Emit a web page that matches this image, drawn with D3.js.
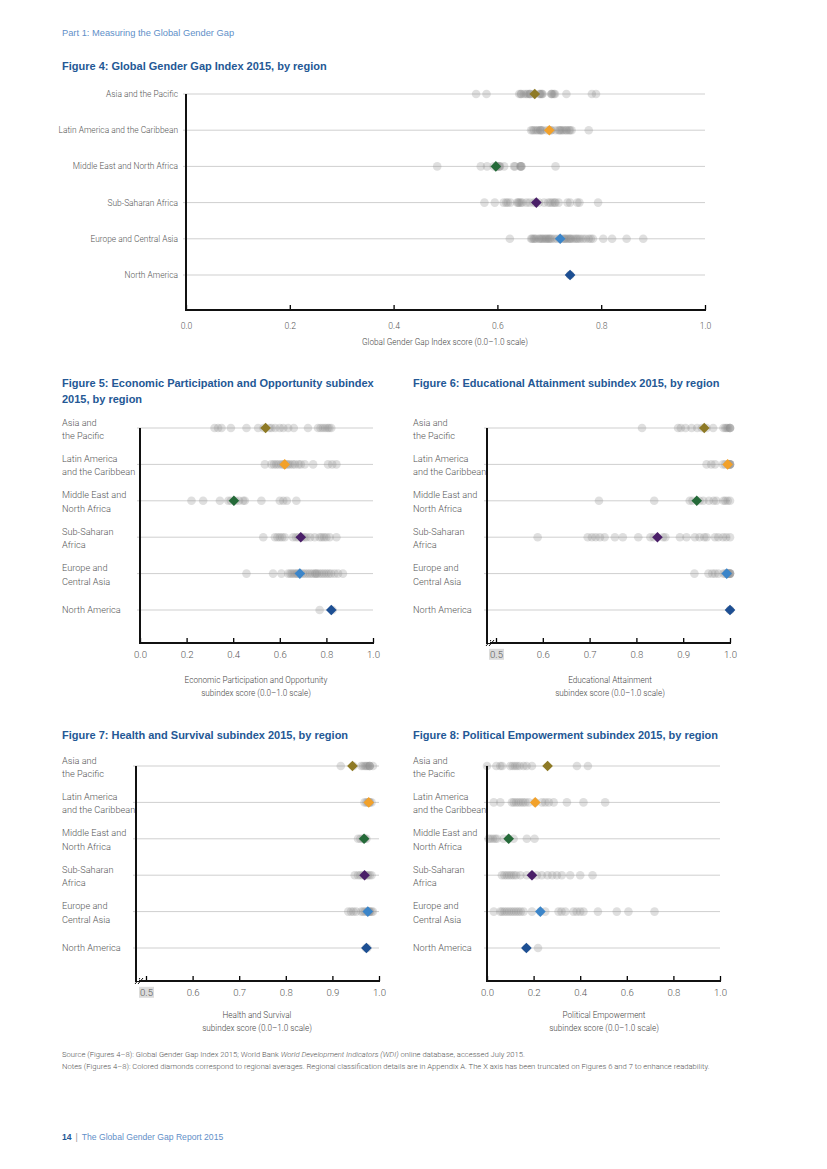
<!DOCTYPE html>
<html>
<head>
<meta charset="utf-8">
<script src="https://cdn.jsdelivr.net/npm/d3@7"></script>
<style>
  body { margin: 0; background: #fff; }
  svg text { font-family: Roboto, "Liberation Sans", sans-serif; font-weight: 300; fill: #555; }
  svg .head { font-family: "Liberation Sans", Arial, sans-serif; font-weight: normal; }
</style>
</head>
<body>
<div id="container"></div>
<script>
var regions = ["Asia and the Pacific", "Latin America and the Caribbean", "Middle East and North Africa",
  "Sub-Saharan Africa", "Europe and Central Asia", "North America"];
var regionLines = [["Asia and", "the Pacific"], ["Latin America", "and the Caribbean"], ["Middle East and", "North Africa"],
  ["Sub-Saharan", "Africa"], ["Europe and", "Central Asia"], ["North America"]];
var regionColours = ["#8e7a26", "#f2a12a", "#256a39", "#4a1f68", "#3b85c9", "#1d4f93"];

// Figure 4: overall index
var gggiPoints = [
  [0.559, 0.579, 0.642, 0.645, 0.646, 0.651, 0.655, 0.658, 0.662, 0.662, 0.664, 0.670, 0.681, 0.682, 0.684, 0.686, 0.687, 0.704, 0.704, 0.706, 0.709, 0.711, 0.733, 0.782, 0.790],
  [0.665, 0.668, 0.671, 0.675, 0.678, 0.682, 0.683, 0.685, 0.687, 0.695, 0.700, 0.703, 0.704, 0.712, 0.718, 0.720, 0.722, 0.725, 0.728, 0.732, 0.734, 0.738, 0.740, 0.743, 0.776],
  [0.484, 0.568, 0.580, 0.593, 0.599, 0.599, 0.603, 0.604, 0.605, 0.613, 0.632, 0.634, 0.644, 0.645, 0.646, 0.646, 0.712],
  [0.575, 0.595, 0.612, 0.617, 0.620, 0.625, 0.638, 0.640, 0.642, 0.645, 0.648, 0.656, 0.662, 0.670, 0.674, 0.680, 0.690, 0.698, 0.702, 0.706, 0.710, 0.712, 0.718, 0.735, 0.740, 0.754, 0.758, 0.794],
  [0.624, 0.665, 0.667, 0.670, 0.672, 0.675, 0.680, 0.682, 0.685, 0.687, 0.690, 0.693, 0.695, 0.698, 0.700, 0.702, 0.705, 0.710, 0.715, 0.720, 0.725, 0.728, 0.730, 0.732, 0.735, 0.738, 0.740, 0.742, 0.746, 0.750, 0.753, 0.756, 0.760, 0.765, 0.770, 0.776, 0.780, 0.784, 0.804, 0.821, 0.849, 0.881],
  [0.740, 0.740]
];
var gggiMeans = [0.672, 0.700, 0.597, 0.675, 0.721, 0.740];

// Figure 5: economic participation and opportunity
var econPoints = [
  [0.320, 0.335, 0.350, 0.390, 0.457, 0.507, 0.530, 0.555, 0.564, 0.580, 0.600, 0.615, 0.636, 0.660, 0.721, 0.764, 0.775, 0.785, 0.795, 0.805, 0.812, 0.821],
  [0.536, 0.564, 0.575, 0.585, 0.595, 0.607, 0.615, 0.620, 0.628, 0.635, 0.643, 0.655, 0.665, 0.680, 0.690, 0.707, 0.743, 0.807, 0.825, 0.843],
  [0.221, 0.271, 0.343, 0.379, 0.390, 0.410, 0.425, 0.443, 0.450, 0.521, 0.600, 0.615, 0.630, 0.671],
  [0.529, 0.579, 0.590, 0.600, 0.610, 0.621, 0.657, 0.670, 0.680, 0.695, 0.705, 0.714, 0.730, 0.750, 0.771, 0.780, 0.790, 0.800, 0.814, 0.843],
  [0.457, 0.571, 0.607, 0.636, 0.645, 0.652, 0.660, 0.668, 0.675, 0.680, 0.690, 0.700, 0.710, 0.720, 0.730, 0.740, 0.750, 0.755, 0.760, 0.770, 0.780, 0.790, 0.800, 0.810, 0.820, 0.835, 0.850, 0.871],
  [0.771, 0.826]
];
var econMeans = [0.539, 0.621, 0.403, 0.690, 0.686, 0.821];

// Figure 6: educational attainment
var eduPoints = [
  [0.812, 0.889, 0.895, 0.905, 0.918, 0.930, 0.940, 0.950, 0.964, 0.986, 0.990, 0.993, 0.996, 1.0, 1.0, 1.0],
  [0.950, 0.960, 0.968, 0.985, 0.990, 0.995, 0.998, 1.0, 1.0, 1.0, 1.0],
  [0.720, 0.838, 0.914, 0.920, 0.935, 0.943, 0.955, 0.965, 0.971, 0.986, 0.990, 0.995, 1.0],
  [0.589, 0.696, 0.705, 0.713, 0.722, 0.732, 0.754, 0.771, 0.804, 0.830, 0.837, 0.857, 0.862, 0.893, 0.907, 0.925, 0.935, 0.945, 0.950, 0.968, 0.975, 0.985, 0.992, 1.0],
  [0.924, 0.954, 0.962, 0.968, 0.975, 0.986, 0.990, 0.993, 0.995, 0.997, 1.0, 1.0, 1.0, 1.0],
  [1.0, 1.0]
];
var eduMeans = [0.945, 0.995, 0.929, 0.845, 0.993, 1.0];

// Figure 7: health and survival
var healthPoints = [
  [0.918, 0.945, 0.962, 0.966, 0.970, 0.973, 0.976, 0.980, 0.980, 0.980, 0.987],
  [0.969, 0.973, 0.976, 0.978, 0.980, 0.980, 0.984],
  [0.955, 0.960, 0.965, 0.968, 0.970, 0.973],
  [0.948, 0.955, 0.960, 0.965, 0.970, 0.973, 0.976, 0.980, 0.984],
  [0.934, 0.940, 0.945, 0.951, 0.962, 0.966, 0.970, 0.974, 0.976, 0.978, 0.980, 0.980, 0.984, 0.987],
  [0.972, 0.975]
];
var healthMeans = [0.943, 0.978, 0.968, 0.969, 0.976, 0.973];

// Figure 8: political empowerment
var polPoints = [
  [0.0, 0.040, 0.057, 0.065, 0.100, 0.110, 0.120, 0.129, 0.140, 0.157, 0.170, 0.193, 0.386, 0.433],
  [0.029, 0.057, 0.107, 0.115, 0.125, 0.135, 0.145, 0.155, 0.165, 0.179, 0.207, 0.236, 0.250, 0.265, 0.286, 0.343, 0.414, 0.507],
  [0.007, 0.015, 0.025, 0.035, 0.043, 0.071, 0.093, 0.114, 0.171, 0.204],
  [0.064, 0.075, 0.085, 0.095, 0.105, 0.115, 0.125, 0.143, 0.171, 0.193, 0.214, 0.235, 0.260, 0.280, 0.300, 0.321, 0.357, 0.400, 0.453],
  [0.029, 0.057, 0.065, 0.075, 0.085, 0.095, 0.105, 0.115, 0.125, 0.135, 0.145, 0.157, 0.193, 0.229, 0.250, 0.307, 0.320, 0.336, 0.371, 0.385, 0.400, 0.414, 0.476, 0.557, 0.607, 0.719],
  [0.169, 0.219]
];
var polMeans = [0.260, 0.207, 0.093, 0.193, 0.229, 0.169];

var fullTicks = [0, 0.2, 0.4, 0.6, 0.8, 1.0];
var cutTicks = [0.5, 0.6, 0.7, 0.8, 0.9, 1.0];

var width = 827, height = 1169;
var blue = "#245895";

var svg = d3.select("#container").append("svg")
  .attr("width", width).attr("height", height);

svg.append("text").attr("class", "head").attr("x", 62).attr("y", 36)
  .style("font-size", "9.3px").style("fill", "#5f8fc8")
  .text("Part 1: Measuring the Global Gender Gap");

function title(x, y, lines) {
  var t = svg.append("text").attr("class", "head").attr("x", x).attr("y", y)
    .style("font-size", "11px").style("font-weight", "bold").style("fill", blue);
  lines.forEach(function(l, i) {
    t.append("tspan").attr("x", x).attr("dy", i ? 16 : 0).text(l);
  });
}

function panel(o) {
  var x = d3.scaleLinear().domain(o.domain).range(o.range);
  var y = d3.scalePoint().domain(regions).range([o.top, o.bottom]);
  var g = svg.append("g");

  // grid lines
  g.selectAll("line.grid").data(regions).enter().append("line")
    .attr("x1", o.axisX - 3).attr("x2", o.range[1])
    .attr("y1", function(d) { return y(d); }).attr("y2", function(d) { return y(d); })
    .style("stroke", "#cfcfcf").style("stroke-width", 1);

  // region labels
  g.selectAll("text.lab").data(regions).enter().append("text")
    .attr("x", o.labelX)
    .attr("y", function(d) { return y(d); })
    .style("font-size", o.labelSize)
    .style("text-anchor", o.labelAnchor)
    .each(function(d, i) {
      var lines = o.singleLine ? [d] : regionLines[i];
      var t = d3.select(this);
      var start = lines.length > 1 ? -2.5 : 3;
      lines.forEach(function(l, j) {
        t.append("tspan").attr("x", o.labelX).attr("y", y(d) + start + j * 13.5).text(l);
      });
    });

  // country dots
  regions.forEach(function(r, i) {
    g.selectAll(null).data(o.points[i]).enter().append("circle")
      .attr("cx", function(d) { return x(d); })
      .attr("cy", y(r))
      .attr("r", 4.3)
      .style("fill", "#8c8c8c").style("fill-opacity", 0.28);
  });

  // regional averages
  g.selectAll("path.mean").data(o.means).enter().append("path")
    .attr("d", d3.symbol().type(d3.symbolDiamond2).size(72))
    .attr("transform", function(d, i) { return "translate(" + x(d) + "," + y(regions[i]) + ")"; })
    .style("fill", function(d, i) { return regionColours[i]; });

  // axes
  var ax = g.append("g").attr("transform", "translate(0," + o.axisY + ")")
    .call(d3.axisBottom(x).tickValues(o.ticks).tickSize(-5).tickPadding(o.tickPad).tickFormat(d3.format(".1f")));
  ax.select(".domain").remove();
  ax.selectAll(".tick line").style("stroke", "#000").style("stroke-width", 1.3);
  ax.selectAll(".tick text").style("font-size", o.tickSize).style("fill", "#555")
    .attr("font-family", null);
  g.append("line").attr("x1", o.axisX).attr("x2", o.range[1] + 1)
    .attr("y1", o.axisY).attr("y2", o.axisY)
    .style("stroke", "#111").style("stroke-width", 2);
  g.append("line").attr("x1", o.axisX).attr("x2", o.axisX)
    .attr("y1", o.top).attr("y2", o.axisY + 1)
    .style("stroke", "#111").style("stroke-width", 2);

  if (o.cut) {
    // truncated axis marker
    var first = ax.selectAll(".tick").filter(function(d) { return d === o.domain[0]; });
    var bb = first.select("text").node().getBBox();
    first.insert("rect", "text")
      .attr("x", bb.x - 1).attr("y", bb.y).attr("width", bb.width + 2).attr("height", bb.height)
      .style("fill", "#dcdcdc");
    g.append("path")
      .attr("d", "M" + (o.axisX - 1) + "," + (o.axisY + 3) + "l5,-6 M" + (o.axisX + 2) + "," + (o.axisY + 3) + "l5,-6")
      .style("stroke", "#111").style("stroke-width", 1).style("fill", "none");
    g.append("path")
      .attr("d", "M" + (o.axisX + 1) + "," + (o.axisY - 1) + "l2,0")
      .style("stroke", "#fff").style("stroke-width", 2);
  }

  var at = g.append("text").attr("x", o.titleX).attr("y", o.axisY + o.titleDy)
    .style("font-size", o.titleSize).style("text-anchor", "middle").style("fill", "#444");
  o.axisTitle.forEach(function(l, j) {
    at.append("tspan").attr("x", o.titleX).attr("dy", j ? 13 : 0).text(l);
  });
}

title(62, 70, ["Figure 4: Global Gender Gap Index 2015, by region"]);
panel({ points: gggiPoints, means: gggiMeans, domain: [0, 1], range: [186, 705], axisX: 186,
  top: 94, bottom: 275, axisY: 310, ticks: fullTicks, singleLine: true, labelX: 178, labelAnchor: "end",
  labelSize: "8.4px", tickSize: "8.6px", tickPad: 13, titleX: 445, titleDy: 35, titleSize: "8.2px",
  axisTitle: ["Global Gender Gap Index score (0.0\u20131.0 scale)"] });

title(62, 387, ["Figure 5: Economic Participation and Opportunity subindex", "2015, by region"]);
panel({ points: econPoints, means: econMeans, domain: [0, 1], range: [140, 373], axisX: 140,
  top: 428, bottom: 610, axisY: 643, ticks: fullTicks, labelX: 62, labelAnchor: "start",
  labelSize: "9.2px", tickSize: "9.6px", tickPad: 8, titleX: 256, titleDy: 40, titleSize: "8.2px",
  axisTitle: ["Economic Participation and Opportunity", "subindex score (0.0\u20131.0 scale)"] });

title(413, 387, ["Figure 6: Educational Attainment subindex 2015, by region"]);
panel({ points: eduPoints, means: eduMeans, domain: [0.5, 1], range: [496, 730], axisX: 487, cut: true,
  top: 428, bottom: 610, axisY: 643, ticks: cutTicks, labelX: 413, labelAnchor: "start",
  labelSize: "9.2px", tickSize: "9.6px", tickPad: 8, titleX: 610, titleDy: 40, titleSize: "8.2px",
  axisTitle: ["Educational Attainment", "subindex score (0.0\u20131.0 scale)"] });

title(62, 739, ["Figure 7: Health and Survival subindex 2015, by region"]);
panel({ points: healthPoints, means: healthMeans, domain: [0.5, 1], range: [146, 379], axisX: 136, cut: true,
  top: 766, bottom: 948, axisY: 981, ticks: cutTicks, labelX: 62, labelAnchor: "start",
  labelSize: "9.2px", tickSize: "9.6px", tickPad: 8, titleX: 257, titleDy: 37, titleSize: "8.2px",
  axisTitle: ["Health and Survival", "subindex score (0.0\u20131.0 scale)"] });

title(413, 739, ["Figure 8: Political Empowerment subindex 2015, by region"]);
panel({ points: polPoints, means: polMeans, domain: [0, 1], range: [487, 720], axisX: 487,
  top: 766, bottom: 948, axisY: 981, ticks: fullTicks, labelX: 413, labelAnchor: "start",
  labelSize: "9.2px", tickSize: "9.6px", tickPad: 8, titleX: 604, titleDy: 37, titleSize: "8.2px",
  axisTitle: ["Political Empowerment", "subindex score (0.0\u20131.0 scale)"] });

var src = svg.append("text").attr("x", 62).attr("y", 1057).style("font-size", "7.65px");
src.append("tspan").text("Source (Figures 4\u20138): Global Gender Gap Index 2015; World Bank ");
src.append("tspan").style("font-style", "italic").text("World Development Indicators (WDI)");
src.append("tspan").text(" online database, accessed July 2015.");
svg.append("text").attr("x", 62).attr("y", 1069).style("font-size", "7.65px")
  .text("Notes (Figures 4\u20138): Colored diamonds correspond to regional averages. Regional classification details are in Appendix A. The X axis has been truncated on Figures 6 and 7 to enhance readability.");

var foot = svg.append("text").attr("class", "head").attr("x", 62).attr("y", 1140).style("font-size", "8.6px");
foot.append("tspan").style("font-weight", "bold").style("fill", blue).text("14");
foot.append("tspan").attr("dx", 4).style("fill", "#999").text("|");
foot.append("tspan").attr("dx", 4).style("fill", "#5f8fc8").text("The Global Gender Gap Report 2015");
</script>
</body>
</html>
